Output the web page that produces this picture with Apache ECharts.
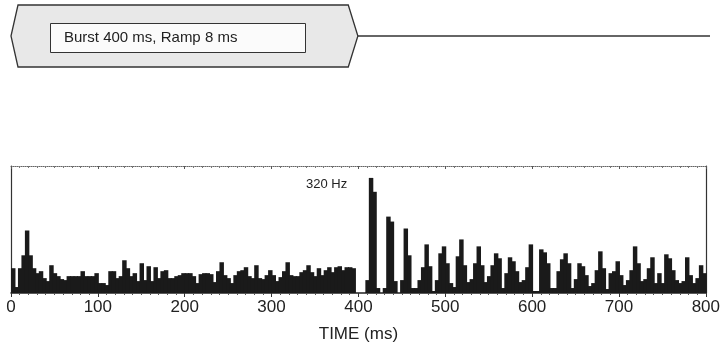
<!DOCTYPE html>
<html>
<head>
<meta charset="utf-8">
<script src="https://cdn.jsdelivr.net/npm/echarts@6/dist/echarts.min.js"></script>
<style>
html,body{margin:0;padding:0;background:#fff;}
#chart{width:723px;height:350px;}
</style>
</head>
<body>
<div id="chart"></div>
<script>
// ---- data ----
const binWidthMs = 4;
const spikeCounts = [
  25, 6, 25, 38, 63, 38, 25, 20, 22, 15,
  12, 28, 20, 17, 14, 13, 17, 17, 17, 17,
  22, 17, 17, 17, 20, 10, 10, 8, 22, 22,
  15, 17, 33, 25, 17, 20, 12, 30, 13, 27,
  12, 26, 15, 22, 23, 15, 15, 17, 18, 20,
  20, 20, 17, 10, 19, 20, 20, 19, 11, 22,
  31, 18, 15, 10, 18, 22, 23, 26, 17, 15,
  28, 15, 14, 18, 23, 18, 12, 16, 22, 31,
  18, 17, 17, 21, 23, 28, 21, 17, 25, 18,
  23, 26, 21, 26, 27, 23, 26, 26, 25, 0,
  0, 0, 13, 116, 102, 5, 0, 5, 77, 72,
  12, 0, 13, 65, 38, 5, 5, 13, 26, 49,
  27, 2, 13, 40, 47, 30, 10, 6, 37, 54,
  28, 11, 14, 30, 47, 28, 11, 17, 28, 40,
  35, 5, 20, 36, 32, 22, 11, 13, 26, 49,
  2, 2, 44, 41, 30, 5, 5, 22, 34, 40,
  30, 5, 14, 30, 27, 18, 7, 10, 23, 42,
  25, 4, 20, 22, 32, 18, 8, 13, 23, 47,
  30, 12, 14, 25, 36, 10, 20, 10, 39, 35,
  23, 13, 10, 12, 36, 18, 10, 15, 28, 20
];
const timeTicks = [0, 100, 200, 300, 400, 500, 600, 700, 800];
const envTime = [0, 8, 386, 397, 386, 8];
const envAmp  = [0, 1, 1, 0, -1, -1];
const offLine = [[397, 0], [800, 0]];
const stimLabel = 'Burst 400 ms, Ramp 8 ms';
const freqLabel = '320 Hz';
const axisName = 'TIME (ms)';

const bins = spikeCounts.map((v, i) => [i * binWidthMs, (i + 1) * binWidthMs, v]);

const FONT = 'Liberation Sans, Arial, sans-serif';
const chart = echarts.init(document.getElementById('chart'), null, {renderer: 'canvas'});
chart.setOption({
  animation: false,
  backgroundColor: '#fff',
  grid: [
    {left: 11, right: 13, top: 166, bottom: 57},
    {left: 11, right: 13, top: 5, height: 62}
  ],
  xAxis: [
    {
      type: 'value', gridIndex: 0, min: timeTicks[0], max: timeTicks[timeTicks.length - 1],
      interval: timeTicks[1] - timeTicks[0],
      name: axisName, nameLocation: 'middle', nameGap: 33,
      nameTextStyle: {fontFamily: FONT, fontSize: 17, color: '#222'},
      axisLine: {show: true, onZero: false, lineStyle: {color: '#222', width: 1.5}},
      axisTick: {show: true, length: 4, lineStyle: {color: '#333'}},
      minorTick: {show: true, splitNumber: 10, length: 2, lineStyle: {color: '#555'}},
      axisLabel: {fontFamily: FONT, fontSize: 17, color: '#222', margin: 6},
      splitLine: {show: false}
    },
    {
      type: 'value', gridIndex: 0, position: 'top', min: 0, max: 800, interval: 100,
      axisLine: {show: true, onZero: false, lineStyle: {color: '#666', width: 1, type: 'dotted'}},
      axisTick: {show: true, inside: true, length: 3, lineStyle: {color: '#555'}},
      minorTick: {show: true, splitNumber: 10, length: 2, lineStyle: {color: '#777'}},
      axisLabel: {show: false},
      splitLine: {show: false}
    },
    {
      type: 'value', gridIndex: 1, min: 0, max: 800, show: false
    }
  ],
  yAxis: [
    {
      type: 'value', gridIndex: 0, min: 0, max: 128,
      axisLine: {show: true, onZero: false, lineStyle: {color: '#333', width: 1.2}},
      axisTick: {show: false}, axisLabel: {show: false}, splitLine: {show: false}
    },
    {
      type: 'value', gridIndex: 0, position: 'right', min: 0, max: 128,
      axisLine: {show: true, onZero: false, lineStyle: {color: '#333', width: 1.2}},
      axisTick: {show: false}, axisLabel: {show: false}, splitLine: {show: false}
    },
    {
      type: 'value', gridIndex: 1, min: -1, max: 1, show: false
    }
  ],
  series: [
    {
      type: 'custom', xAxisIndex: 0, yAxisIndex: 0,
      data: bins,
      renderItem: function (params, api) {
        const a = api.coord([api.value(0), 0]);
        const b = api.coord([api.value(1), api.value(2)]);
        return {
          type: 'rect',
          shape: {x: a[0], y: b[1], width: b[0] - a[0] + 1, height: a[1] - b[1]},
          style: {fill: '#1a1a1a'}
        };
      }
    },
    {
      type: 'custom', xAxisIndex: 2, yAxisIndex: 2,
      data: [0],
      renderItem: function (params, api) {
        const pts = envTime.map((t, k) => api.coord([t, envAmp[k]]));
        return {
          type: 'polygon',
          shape: {points: pts},
          style: {fill: '#e8e8e8', stroke: '#333', lineWidth: 1.3}
        };
      }
    },
    {
      type: 'line', xAxisIndex: 2, yAxisIndex: 2,
      data: offLine, symbol: 'none',
      lineStyle: {color: '#333', width: 1.5}
    }
  ],
  graphic: [
    {
      type: 'rect', left: 50, top: 23, z: 100,
      shape: {width: 255, height: 29},
      style: {fill: '#fbfbfb', stroke: '#333', lineWidth: 1}
    },
    {
      type: 'text', left: 64, top: 30, z: 101,
      style: {text: stimLabel, font: '15px ' + FONT, fill: '#222'}
    },
    {
      type: 'text', left: 306, top: 178, z: 101,
      style: {text: freqLabel, font: '13px ' + FONT, fill: '#222'}
    }
  ]
});
</script>
</body>
</html>
